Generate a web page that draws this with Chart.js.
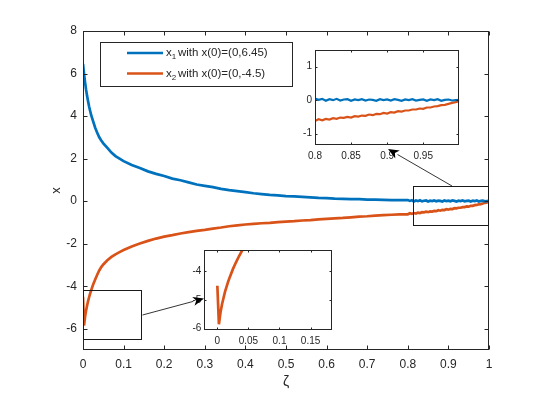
<!DOCTYPE html>
<html><head><meta charset="utf-8">
<script src="https://cdn.jsdelivr.net/npm/chart.js@4.4.1/dist/chart.umd.min.js"></script>
<style>
html,body{margin:0;padding:0;background:#fff;}
#wrap{position:relative;width:533px;height:395px;overflow:hidden;}
#wrap canvas{position:absolute;left:0;top:0;}
</style></head><body>
<div id="wrap">
<canvas id="main" width="533" height="395"></canvas>
<canvas id="in1" width="533" height="395"></canvas>
<canvas id="in2" width="533" height="395"></canvas>
</div>
<script>
// ---------------- data ----------------
const zeta = [
  0, 0.0025, 0.005, 0.0075, 0.01, 0.0125, 0.015, 0.0175, 0.02, 0.025,
  0.03, 0.035, 0.04, 0.045, 0.05, 0.06, 0.07, 0.08, 0.09, 0.10,
  0.12, 0.14, 0.16, 0.18, 0.20, 0.22, 0.24, 0.26, 0.28, 0.30,
  0.32, 0.34, 0.36, 0.38, 0.40, 0.42, 0.44, 0.46, 0.48, 0.50,
  0.52, 0.54, 0.56, 0.58, 0.60, 0.62, 0.64, 0.66, 0.68, 0.70,
  0.72, 0.74, 0.76, 0.78,
  0.800, 0.805, 0.810, 0.815, 0.820, 0.825, 0.830, 0.835, 0.840, 0.845,
  0.850, 0.855, 0.860, 0.865, 0.870, 0.875, 0.880, 0.885, 0.890, 0.895,
  0.900, 0.905, 0.910, 0.915, 0.920, 0.925, 0.930, 0.935, 0.940, 0.945,
  0.950, 0.955, 0.960, 0.965, 0.970, 0.975, 0.980, 0.985, 0.990, 0.995,
  1.000
];
const x1 = [
  6.45, 6.0, 5.6, 5.25, 4.95, 4.7, 4.45, 4.25, 4.05, 3.75,
  3.45, 3.22, 3.0, 2.85, 2.72, 2.5, 2.28, 2.12, 2.0, 1.88,
  1.7, 1.56, 1.4, 1.28, 1.18, 1.06, 0.98, 0.88, 0.78, 0.72,
  0.66, 0.58, 0.52, 0.47, 0.42, 0.37, 0.33, 0.29, 0.27, 0.24,
  0.22, 0.20, 0.18, 0.15, 0.14, 0.12, 0.11, 0.09, 0.09, 0.07,
  0.07, 0.06, 0.05, 0.05,
  0.05, 0.01, 0.04, -0.02, 0.03, 0.00, 0.04, -0.01, 0.02, 0.03,
  -0.02, 0.02, 0.00, 0.03, -0.01, 0.02, 0.01, -0.02, 0.03, 0.00,
  0.02, -0.01, 0.03, 0.01, -0.02, 0.02, 0.00, 0.03, -0.01, 0.01,
  0.02, -0.02, 0.02, 0.00, 0.03, -0.02, 0.01, 0.02, -0.01, 0.00,
  0.01
];
const x2 = [
  -4.5, -5.85, -5.45, -5.15, -4.92, -4.7, -4.52, -4.35, -4.2, -3.92,
  -3.68, -3.46, -3.26, -3.1, -2.98, -2.78, -2.62, -2.5, -2.4, -2.3,
  -2.13, -1.99, -1.87, -1.76, -1.67, -1.6, -1.52, -1.46, -1.4, -1.35,
  -1.29, -1.24, -1.18, -1.14, -1.1, -1.07, -1.04, -1.02, -0.99, -0.96,
  -0.94, -0.91, -0.89, -0.86, -0.83, -0.81, -0.79, -0.76, -0.73, -0.71,
  -0.68, -0.66, -0.64, -0.62,
  -0.62, -0.57, -0.60, -0.56, -0.58, -0.54, -0.56, -0.52, -0.53, -0.50,
  -0.52, -0.48, -0.49, -0.46, -0.47, -0.43, -0.45, -0.41, -0.42, -0.38,
  -0.40, -0.36, -0.37, -0.33, -0.34, -0.31, -0.31, -0.28, -0.28, -0.25,
  -0.26, -0.22, -0.22, -0.19, -0.18, -0.15, -0.14, -0.11, -0.08, -0.06,
  -0.03
];
const seriesLabels = ['with x(0)=(0,6.45)', 'with x(0)=(0,-4.5)'];
const mainXTicks = [0, 0.1, 0.2, 0.3, 0.4, 0.5, 0.6, 0.7, 0.8, 0.9, 1];
const mainYTicks = [-6, -4, -2, 0, 2, 4, 6, 8];
const in1XTicks = [0.8, 0.85, 0.9, 0.95];
const in1YTicks = [-1, 0, 1];
const in2XTicks = [0, 0.05, 0.1, 0.15];
const in2YTicks = [-6, -5, -4];

// ---------------- style ----------------
const BLUE = '#0072BD', ORANGE = '#D95319', TXT = '#262626', AX = '#262626';
const FONT = '"Liberation Sans", Arial, Helvetica, sans-serif';

const pts = arr => zeta.map((z, i) => ({x: z, y: arr[i]}));

function axesPlugin(tickLen, whiteBg) {
  return {
    id: 'axbox',
    beforeDraw(chart) {
      if (!whiteBg) return;
      const a = chart.chartArea, ctx = chart.ctx;
      ctx.save(); ctx.fillStyle = '#fff';
      ctx.fillRect(a.left, a.top, a.right - a.left, a.bottom - a.top);
      ctx.restore();
    },
    afterDatasetsDraw(chart) {
      const {ctx, chartArea: a, scales: {x, y}} = chart;
      ctx.save();
      ctx.strokeStyle = AX; ctx.lineWidth = 1;
      const L = Math.round(a.left) + 0.5, R = Math.round(a.right) - 0.5;
      const T = Math.round(a.top) + 0.5, B = Math.round(a.bottom) - 0.5;
      ctx.beginPath();
      x.ticks.forEach(t => {
        const px = Math.round(x.getPixelForValue(t.value)) + 0.5;
        ctx.moveTo(px, B); ctx.lineTo(px, B - tickLen);
        ctx.moveTo(px, T); ctx.lineTo(px, T + tickLen);
      });
      y.ticks.forEach(t => {
        const py = Math.round(y.getPixelForValue(t.value)) + 0.5;
        ctx.moveTo(L, py); ctx.lineTo(L + tickLen, py);
        ctx.moveTo(R, py); ctx.lineTo(R - tickLen, py);
      });
      ctx.stroke();
      ctx.strokeRect(L, T, R - L, B - T);
      ctx.restore();
    }
  };
}

function scaleCfg(min, max, tickArr, fontSize, pad, fitFn, title) {
  const c = {
    type: 'linear', min: min, max: max,
    grid: {display: false, drawTicks: false},
    border: {display: false},
    ticks: {padding: pad, color: TXT, font: {family: FONT, size: fontSize},
            autoSkip: false, maxRotation: 0, minRotation: 0,
            callback: v => String(v)},
    afterBuildTicks: s => { s.ticks = tickArr.map(v => ({value: v})); },
    afterFit: s => { fitFn(s); s.paddingLeft = s.paddingRight = s.paddingTop = s.paddingBottom = 0; }
  };
  if (title) c.title = title;
  return c;
}

function lineDs(arr, color, w) {
  return {data: pts(arr), borderColor: color, backgroundColor: color, borderWidth: w,
          pointRadius: 0, tension: 0, clip: 0, fill: false};
}

const legendPlugin = {
  id: 'mlegend',
  afterDraw(chart) {
    const ctx = chart.ctx;
    ctx.save();
    ctx.fillStyle = '#fff';
    ctx.fillRect(100, 42, 192, 44);
    ctx.strokeStyle = AX; ctx.lineWidth = 1;
    ctx.strokeRect(100.5, 42.5, 192, 44);
    const rows = [[BLUE, '1', seriesLabels[0], 53], [ORANGE, '2', seriesLabels[1], 73.5]];
    rows.forEach(r => {
      ctx.strokeStyle = r[0]; ctx.lineWidth = 2.5;
      ctx.beginPath(); ctx.moveTo(127, r[3]); ctx.lineTo(163, r[3]); ctx.stroke();
      ctx.fillStyle = TXT; ctx.textBaseline = 'middle'; ctx.textAlign = 'left';
      ctx.font = '11.5px ' + FONT;
      ctx.fillText('x', 166, r[3]);
      const wx = ctx.measureText('x').width;
      ctx.font = '8px ' + FONT;
      ctx.fillText(r[1], 166 + wx, r[3] + 4);
      const ws = ctx.measureText(r[1]).width;
      ctx.font = '11.5px ' + FONT;
      ctx.fillText(' ' + r[2], 166 + wx + ws - 1.5, r[3]);
    });
    ctx.restore();
  }
};

// ---------------- main chart ----------------
const mainChart = new Chart(document.getElementById('main'), {
  type: 'line',
  data: {datasets: [lineDs(x1, BLUE, 2.7), lineDs(x2, ORANGE, 2.7)]},
  options: {
    responsive: false, animation: false, devicePixelRatio: 1,
    layout: {padding: {left: 0, top: 31, right: 44, bottom: 0}},
    plugins: {legend: {display: false}, tooltip: {enabled: false}},
    scales: {
      x: scaleCfg(0, 1, mainXTicks, 12, 7, s => { s.height = 45; },
        {display: true, text: 'ζ', color: TXT, font: {family: FONT, size: 14}, padding: {top: 0, bottom: 4}}),
      y: scaleCfg(-7, 8, mainYTicks, 12, 6, s => { s.width = 83; },
        {display: true, text: 'x', color: TXT, font: {family: FONT, size: 13}, padding: {top: 49, bottom: 0}})
    }
  },
  plugins: [axesPlugin(4, false), legendPlugin]
});

// ---------------- inset 1 ----------------
const inset1 = new Chart(document.getElementById('in1'), {
  type: 'line',
  data: {datasets: [lineDs(x1, BLUE, 2.2), lineDs(x2, ORANGE, 2.2)]},
  options: {
    responsive: false, animation: false, devicePixelRatio: 1,
    layout: {padding: {left: 0, top: 50, right: 73.7, bottom: 0}},
    plugins: {legend: {display: false}, tooltip: {enabled: false}},
    scales: {
      x: scaleCfg(0.8, 1.0, in1XTicks, 10, 5, s => { s.height = 395 - 145.3; }),
      y: scaleCfg(-1.35, 1.5, in1YTicks, 10, 3, s => { s.width = 315; })
    }
  },
  plugins: [axesPlugin(2, true)]
});

// ---------------- inset 2 + annotations ----------------
const annotPlugin = {
  id: 'annot',
  afterDraw(chart) {
    const ctx = chart.ctx;
    const mx = mainChart.scales.x, my = mainChart.scales.y;
    ctx.save();
    ctx.strokeStyle = '#1a1a1a'; ctx.lineWidth = 1;
    const rect = (x0, x1v, y0, y1v) => {
      const l = Math.round(mx.getPixelForValue(x0)) + 0.5, r = Math.round(mx.getPixelForValue(x1v)) - 0.5;
      const t = Math.round(my.getPixelForValue(y1v)) + 0.5, b = Math.round(my.getPixelForValue(y0)) + 0.5;
      ctx.strokeRect(l, t, r - l, b - t);
    };
    rect(0, 0.146, -6.5, -4.2);
    rect(0.814, 1.0, -1.13, 0.7);
    const arrow = (sx, sy, ex, ey) => {
      const ang = Math.atan2(ey - sy, ex - sx), len = 11, hw = 4.5;
      const bx = ex - len * Math.cos(ang), by = ey - len * Math.sin(ang);
      ctx.strokeStyle = '#000'; ctx.fillStyle = '#000'; ctx.lineWidth = 0.8;
      ctx.beginPath(); ctx.moveTo(sx, sy); ctx.lineTo(bx, by); ctx.stroke();
      ctx.beginPath(); ctx.moveTo(ex, ey);
      ctx.lineTo(bx + hw * Math.sin(ang), by - hw * Math.cos(ang));
      ctx.lineTo(bx + 3 * Math.cos(ang), by + 3 * Math.sin(ang));
      ctx.lineTo(bx - hw * Math.sin(ang), by + hw * Math.cos(ang));
      ctx.closePath(); ctx.fill();
    };
    arrow(452, 186, 388, 149);
    arrow(142.5, 315, 204, 298.5);
    ctx.restore();
  }
};

const inset2 = new Chart(document.getElementById('in2'), {
  type: 'line',
  data: {datasets: [lineDs(x1, BLUE, 2.7), lineDs(x2, ORANGE, 2.7)]},
  options: {
    responsive: false, animation: false, devicePixelRatio: 1,
    layout: {padding: {left: 0, top: 250, right: 201.3, bottom: 0}},
    plugins: {legend: {display: false}, tooltip: {enabled: false}},
    scales: {
      x: scaleCfg(-0.021, 0.184, in2XTicks, 10, 5, s => { s.height = 65; }),
      y: scaleCfg(-6.05, -3.25, in2YTicks, 10, 3, s => { s.width = 204.3; })
    }
  },
  plugins: [axesPlugin(2, true), annotPlugin]
});
</script>
</body></html>
